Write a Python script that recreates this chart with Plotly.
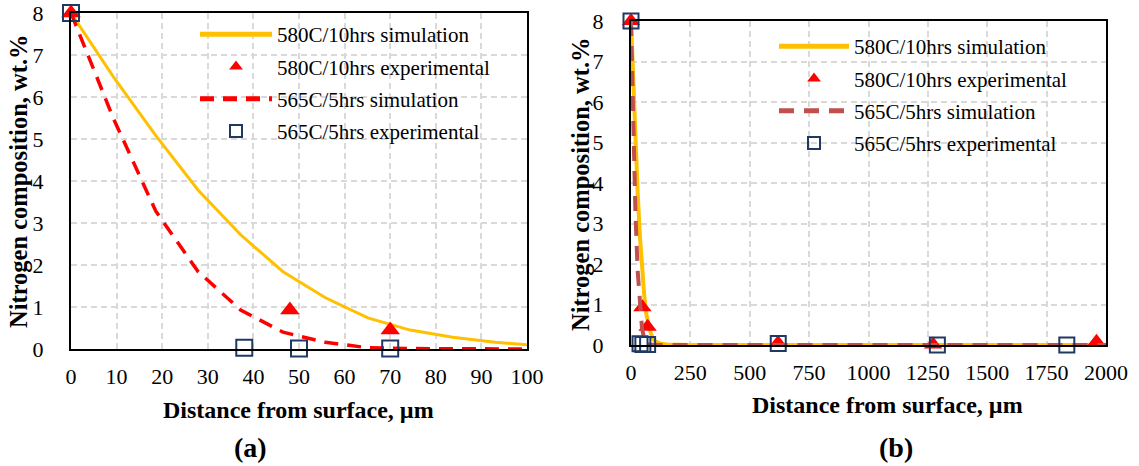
import plotly.graph_objects as go

# ---------------- data ----------------
# (a) 0-100 µm
dist_a_sim = [0, 9.3, 18.6, 27.9, 37.2, 46.5, 55.8, 65.1, 74.4, 83.7, 93.0, 100]
n580_sim_a = [8.0, 6.48, 5.08, 3.78, 2.72, 1.84, 1.22, 0.74, 0.45, 0.28, 0.16, 0.10]
n565_sim_a = [8.0, 5.49, 3.28, 1.84, 0.93, 0.40, 0.16, 0.03, 0.01, 0.0, 0.0, 0.0]

dist_580_exp_a = [0, 48, 70]
n580_exp_a = [8.0, 0.93, 0.45]
dist_565_exp_a = [0, 38, 50, 70]
n565_exp_a = [8.0, 0.03, 0.01, 0.01]

# (b) 0-2000 µm
dist_b_sim = [0, 9.3, 18.6, 27.9, 37.2, 46.5, 55.8, 65.1, 74.4, 83.7, 93.0, 100, 125, 150, 250, 500, 1000, 1500, 2000]
n580_sim_b = [8.0, 6.48, 5.08, 3.78, 2.72, 1.84, 1.22, 0.74, 0.45, 0.28, 0.16, 0.10, 0.03, 0.01, 0, 0, 0, 0, 0]
n565_sim_b = [8.0, 5.49, 3.28, 1.84, 0.93, 0.40, 0.16, 0.03, 0.01, 0.0, 0.0, 0.0, 0, 0, 0, 0, 0, 0, 0]

dist_580_exp_b = [0, 48, 70, 619, 1272, 1960]
n580_exp_b = [8.0, 0.93, 0.45, 0.05, 0.01, 0.08]
dist_565_exp_b = [0, 38, 50, 70, 620, 1290, 1835]
n565_exp_b = [8.0, 0.03, 0.01, 0.01, 0.04, 0.0, 0.0]

names = ["580C/10hrs simulation", "580C/10hrs experimental",
         "565C/5hrs simulation", "565C/5hrs experimental"]
xticks_a = [0, 10, 20, 30, 40, 50, 60, 70, 80, 90, 100]
xticks_b = [0, 250, 500, 750, 1000, 1250, 1500, 1750, 2000]
yticks = [0, 1, 2, 3, 4, 5, 6, 7, 8]

# ---------------- style ----------------
W, H = 1139, 466
FONT = "Liberation Serif"
YELLOW = "#FFC000"
RED = "#FF0000"
BROWNRED = "#C0504D"
NAVY = "#1F3864"
GRID = "#D9D9D9"

def px_x(p):
    return p / W

def px_y(p):
    return 1 - p / H

fig = go.Figure()

# panel (a)
fig.add_trace(go.Scatter(x=dist_a_sim, y=n580_sim_a, mode="lines", name=names[0],
                         line=dict(color=YELLOW, width=3), xaxis="x", yaxis="y",
                         legend="legend", legendgroup="a1"))
fig.add_trace(go.Scatter(x=dist_580_exp_a, y=n580_exp_a, mode="markers", name=names[1],
                         marker=dict(symbol="triangle-up", color=RED, size=17),
                         cliponaxis=False, xaxis="x", yaxis="y",
                         legend="legend", legendgroup="a2"))
fig.add_trace(go.Scatter(x=dist_a_sim, y=n565_sim_a, mode="lines", name=names[2],
                         line=dict(color=RED, width=3.5, dash="14px,9px"), xaxis="x", yaxis="y",
                         legend="legend", legendgroup="a3"))
fig.add_trace(go.Scatter(x=dist_565_exp_a, y=n565_exp_a, mode="markers", name=names[3],
                         marker=dict(symbol="square-open", color=NAVY, size=16,
                                     line=dict(width=2, color=NAVY)),
                         cliponaxis=False, xaxis="x", yaxis="y",
                         legend="legend", legendgroup="a4"))

# panel (b)
fig.add_trace(go.Scatter(x=dist_b_sim, y=n580_sim_b, mode="lines", name=names[0],
                         line=dict(color=YELLOW, width=4), xaxis="x2", yaxis="y2",
                         legend="legend2", legendgroup="b1"))
fig.add_trace(go.Scatter(x=dist_580_exp_b, y=n580_exp_b, mode="markers", name=names[1],
                         marker=dict(symbol="triangle-up", color=RED, size=16),
                         cliponaxis=False, xaxis="x2", yaxis="y2",
                         legend="legend2", legendgroup="b2"))
fig.add_trace(go.Scatter(x=dist_b_sim, y=n565_sim_b, mode="lines", name=names[2],
                         line=dict(color=BROWNRED, width=4, dash="15px,10px"), xaxis="x2", yaxis="y2",
                         legend="legend2", legendgroup="b3"))
fig.add_trace(go.Scatter(x=dist_565_exp_b, y=n565_exp_b, mode="markers", name=names[3],
                         marker=dict(symbol="square-open", color=NAVY, size=15,
                                     line=dict(width=2, color=NAVY)),
                         cliponaxis=False, xaxis="x2", yaxis="y2",
                         legend="legend2", legendgroup="b4"))

axis_common = dict(showline=True, linecolor="black", linewidth=2, mirror=True,
                   showgrid=True, gridcolor=GRID, gridwidth=1.5, griddash="6px,4px",
                   zeroline=False, ticks="", automargin=False,
                   tickfont=dict(family=FONT, size=22, color="black"))

legend_common = dict(xanchor="left", yanchor="top", bgcolor="rgba(0,0,0,0)",
                     borderwidth=0, tracegroupgap=2, itemsizing="constant",
                     font=dict(family=FONT, size=21, color="black"))

fig.update_layout(
    template="none",
    font=dict(family=FONT, color="black"),
    width=W, height=H,
    margin=dict(l=0, r=0, t=0, b=0, autoexpand=False),
    paper_bgcolor="white", plot_bgcolor="white",
    xaxis=dict(domain=[px_x(71), px_x(527)], range=[0, 100], tickvals=xticks_a,
               anchor="y", ticklabelstandoff=7, **axis_common),
    yaxis=dict(domain=[px_y(349), px_y(13)], range=[0, 8], tickvals=yticks,
               anchor="x", ticklabelstandoff=21, **axis_common),
    xaxis2=dict(domain=[px_x(631), px_x(1106)], range=[0, 2000], tickvals=xticks_b,
                anchor="y2", ticklabelstandoff=7, **axis_common),
    yaxis2=dict(domain=[px_y(345), px_y(21)], range=[0, 8], tickvals=yticks,
                anchor="x2", ticklabelstandoff=21, **axis_common),
    legend=dict(x=px_x(195), y=px_y(14), itemwidth=72, **legend_common),
    legend2=dict(x=px_x(774), y=px_y(26), itemwidth=70, **legend_common),
    showlegend=True,
)

def add_text(text, x, y, size, angle=0):
    fig.add_annotation(text=text, x=px_x(x), y=px_y(y), xref="paper", yref="paper",
                       xanchor="center", yanchor="middle", showarrow=False,
                       textangle=angle, font=dict(family=FONT, size=size, color="black"))

add_text("<b>Distance from surface, µm</b>", 298, 410, 24)
add_text("<b>Distance from surface, µm</b>", 887, 405, 24)
add_text("<b>Nitrogen composition, wt.%</b>", 19, 181, 24.5, -90)
add_text("<b>Nitrogen composition, wt.%</b>", 580, 184, 24.5, -90)
add_text("<b>(a)</b>", 250, 447, 28)
add_text("<b>(b)</b>", 896, 447, 28)

fig.write_html("out.html", config={"displayModeBar": False},
               post_script="document.body.style.margin='0px';document.body.style.overflow='hidden';")
